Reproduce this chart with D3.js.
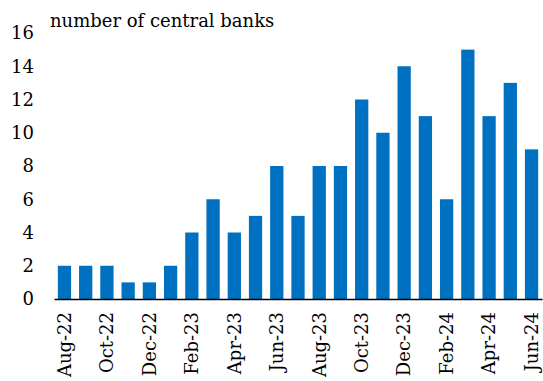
<!DOCTYPE html>
<html>
<head>
<meta charset="utf-8">
<script src="https://cdn.jsdelivr.net/npm/d3@7"></script>
<style>
  body { margin: 0; background: #fff; }
  svg text { font-family: "DejaVu Serif", "Liberation Serif", serif !important; }
</style>
</head>
<body>
<svg id="chart" width="543" height="381"></svg>
<script>
const months = ["Aug-22", "Sep-22", "Oct-22", "Nov-22", "Dec-22", "Jan-23", "Feb-23", "Mar-23",
    "Apr-23", "May-23", "Jun-23", "Jul-23", "Aug-23", "Sep-23", "Oct-23", "Nov-23", "Dec-23",
    "Jan-24", "Feb-24", "Mar-24", "Apr-24", "May-24", "Jun-24"];
const banks = [2, 2, 2, 1, 1, 2, 4, 6, 4, 5, 8, 5, 8, 8, 12, 10, 14, 11, 6, 15, 11, 13, 9];
const yTicks = [0, 2, 4, 6, 8, 10, 12, 14, 16];

const svg = d3.select("#chart");
const margins = { top: 33, right: 1, bottom: 82, left: 54 };
const width = 543, height = 381;

const x = d3.scaleBand()
    .domain(months)
    .range([margins.left, width - margins.right])
    .paddingInner(0.375)
    .paddingOuter(0.18);

const y = d3.scaleLinear()
    .domain([0, 16])
    .range([height - margins.bottom, margins.top]);

svg.selectAll("rect.bar")
    .data(banks)
    .join("rect")
    .attr("class", "bar")
    .attr("x", (d, i) => x(months[i]))
    .attr("width", x.bandwidth())
    .attr("y", d => y(d))
    .attr("height", d => y(0) - y(d))
    .attr("fill", "#0070C0");

const yAxis = svg.append("g")
    .attr("transform", `translate(${margins.left}, 0)`)
    .call(d3.axisLeft(y).tickValues(yTicks).tickSize(0).tickPadding(20));
yAxis.select(".domain").remove();
yAxis.selectAll("text")
    .attr("font-size", "18px")
    .attr("fill", "#000");

const xAxis = svg.append("g")
    .attr("transform", `translate(0, ${y(0)})`)
    .call(d3.axisBottom(x).tickValues(months.filter((m, i) => i % 2 === 0)).tickSize(0));
xAxis.select(".domain").attr("stroke", "#000").attr("stroke-width", 1.5);
xAxis.selectAll("text")
    .attr("font-size", "18px")
    .attr("fill", "#000")
    .attr("text-anchor", "end")
    .attr("dy", "0.35em")
    .attr("transform", "translate(0, 13) rotate(-90)")
    .attr("x", 0)
    .attr("y", 0);

svg.append("text")
    .attr("x", 50)
    .attr("y", 27)
    .attr("font-size", "18px")
    .attr("fill", "#000")
    .text("number of central banks");
</script>
</body>
</html>
